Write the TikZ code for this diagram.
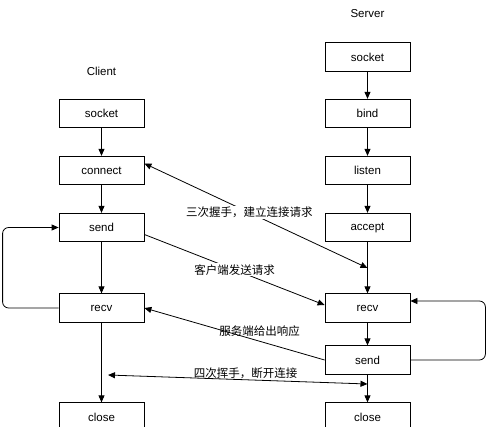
\documentclass[tikz,border=0pt]{standalone}
\usepackage{fontspec}
\setmainfont{Liberation Sans}
\newfontfamily\cjk{Noto Sans CJK SC}
\usetikzlibrary{arrows.meta}

\begin{document}
\begin{tikzpicture}[x=1pt,y=-1pt,line width=0.8pt,
    >={Triangle[length=7pt,width=6pt]},
    font=\fontsize{11.5}{13}\selectfont,
    box/.style={draw,minimum width=85pt,minimum height=28.5pt,inner sep=0pt},
    msg/.style={font=\cjk\fontsize{11.5}{13}\selectfont,inner sep=1pt}]
    \useasboundingbox (0,0) rectangle (489,427);

    % client
    \node (ctitle) at (101.5,71) {Client};
    \node[box] (csocket)  at (101.5,113.5) {socket};
    \node[box] (cconnect) at (101.5,170.5) {connect};
    \node[box] (csend)    at (101.5,227.5) {send};
    \node[box] (crecv)    at (101.5,308)   {recv};
    \node[box] (cclose)   at (101.5,417)   {close};

    \draw[->] (csocket) -- (cconnect);
    \draw[->] (cconnect) -- (csend);
    \draw[->] (csend) -- (crecv);
    \draw[->] (crecv) -- (cclose);
    \draw[->,rounded corners=6pt] (crecv.west) -- ++(-56,0) |- (csend.west);

    % server
    \node (stitle) at (367.5,14) {Server};
    \node[box] (ssocket) at (367.5,57)    {socket};
    \node[box] (sbind)   at (367.5,113.5) {bind};
    \node[box] (slisten) at (367.5,170.5) {listen};
    \node[box] (saccept) at (367.5,227.5) {accept};
    \node[box] (srecv)   at (367.5,308)   {recv};
    \node[box] (ssend)   at (367.5,360)   {send};
    \node[box] (sclose)  at (367.5,417)   {close};

    \draw[->] (ssocket) -- (sbind);
    \draw[->] (sbind) -- (slisten);
    \draw[->] (slisten) -- (saccept);
    \draw[->] (saccept) -- (srecv);
    \draw[->] (srecv) -- (ssend);
    \draw[->] (ssend) -- (sclose);
    \draw[->,rounded corners=6pt] (ssend.east) -- ++(75,0) |- ([yshift=7pt]srecv.east);

    % messages
    \coordinate (hs) at (367.5,268);
    \draw[<->] ([yshift=7pt]cconnect.east) -- node[msg,fill=white,pos=0.47]{三次握手，建立连接请求} (hs);
    \draw[->] ([yshift=-7pt]csend.east) -- node[msg,fill=white]{客户端发送请求} ([yshift=3pt]srecv.west);
    \draw[->] (ssend.west) -- node[msg,pos=0.36,yshift=10pt]{服务端给出响应} (crecv.east);

    \coordinate (wc) at (108,375);
    \coordinate (ws) at (367.5,384);
    \draw[<->] (wc) -- node[msg,above,pos=0.53]{四次挥手，断开连接} (ws);

\end{tikzpicture}
\end{document}
